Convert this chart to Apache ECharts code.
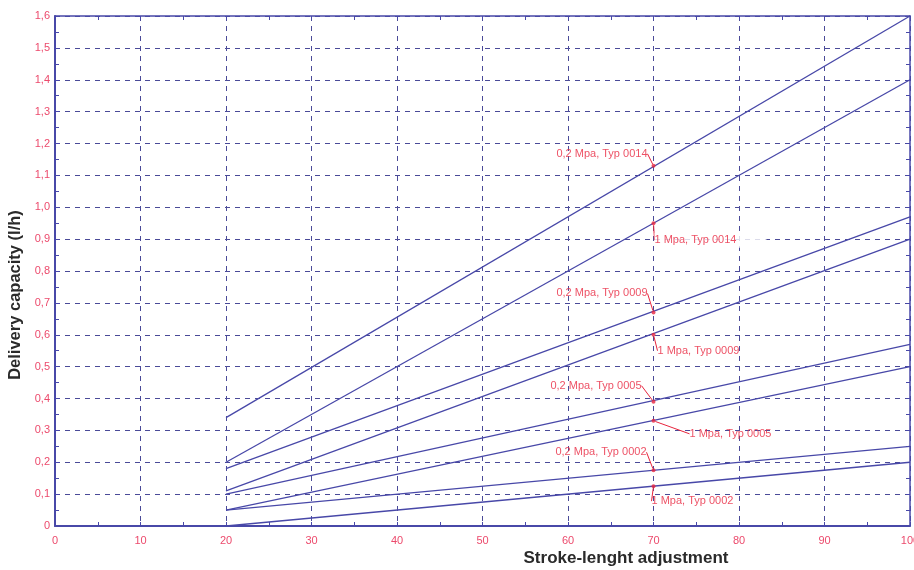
<!DOCTYPE html>
<html>
<head>
<meta charset="utf-8">
<script src="https://cdn.jsdelivr.net/npm/echarts@6/dist/echarts.min.js"></script>
<style>
  html, body { margin: 0; padding: 0; background: #fff; }
  #chart { width: 914px; height: 570px; }
</style>
</head>
<body>
<div id="chart"></div>
<script>
// stroke positions where every curve starts / ends
const strokeRange = [20, 100];
const curveNames = [
  '0,2 Mpa, Typ 0014', '1 Mpa, Typ 0014',
  '0,2 Mpa, Typ 0009', '1 Mpa, Typ 0009',
  '0,2 Mpa, Typ 0005', '1 Mpa, Typ 0005',
  '0,2 Mpa, Typ 0002', '1 Mpa, Typ 0002'
];
const startValues = [0.34, 0.20, 0.18, 0.11, 0.10, 0.05, 0.05, 0.00];
const endValues   = [1.60, 1.40, 0.97, 0.90, 0.57, 0.50, 0.25, 0.20];
// marked points at 70 %
const markStroke = 70;
const markValues = [1.13, 0.95, 0.67, 0.60, 0.39, 0.33, 0.175, 0.125];

// label placement for the marked points: [align, dx, dy] from the point
const labelPlace = [
  ['right', -6, -12], ['left', 1, 17],
  ['right', -6, -19], ['left', 4, 16],
  ['right', -12, -16], ['left', 36, 13],
  ['right', -7, -18], ['left', -2, 15]
];

const lineColor = '#4848a8';
const gridColor = '#4a4a98';
const tickRed = '#ec4a6c';
const noteRed = '#e8253e';
const fontFam = '"Liberation Sans", Arial, sans-serif';

const chart = echarts.init(document.getElementById('chart'));

const lineSeries = curveNames.map((n, i) => ({
  name: n,
  type: 'line',
  symbol: 'none',
  silent: true,
  lineStyle: { color: lineColor, width: 1.3 },
  data: [[strokeRange[0], startValues[i]], [strokeRange[1], endValues[i]]]
}));

const markSeries = {
  type: 'scatter',
  symbolSize: 4,
  itemStyle: { color: noteRed },
  z: 5,
  data: curveNames.map((n, i) => ({
    value: [markStroke, markValues[i]],
    name: n,
    label: i === 1 ? { backgroundColor: '#fff', padding: [2, 30, 2, 0] } : {}
  })),
  label: {
    show: true,
    position: 'inside',
    formatter: p => p.name,
    color: noteRed,
    fontFamily: fontFam,
    fontSize: 11
  },
  labelLayout: p => {
    const pl = labelPlace[p.dataIndex];
    return {
      x: p.rect.x + p.rect.width / 2 + pl[1],
      y: p.rect.y + p.rect.height / 2 + pl[2],
      align: pl[0],
      verticalAlign: 'middle'
    };
  },
  labelLine: { show: true, length2: 0, lineStyle: { color: noteRed, width: 1 } }
};

const fmtY = v => v === 0 ? '0' : v.toFixed(1).replace('.', ',');

const tickStyle = { color: lineColor };

const option = {
  animation: false,
  backgroundColor: '#fff',
  grid: { left: 55, right: 4, top: 16, bottom: 44, outerBoundsMode: 'none', containLabel: false },
  xAxis: [{
    type: 'value', min: 0, max: 100, interval: 10,
    axisLine: { lineStyle: { color: lineColor, width: 2 } },
    axisTick: { inside: true, length: 4, lineStyle: tickStyle },
    minorTick: { show: true, splitNumber: 2, length: 4, lineStyle: tickStyle },
    axisLabel: { color: tickRed, fontSize: 11, margin: 9, fontFamily: fontFam, hideOverlap: false },
    splitLine: { show: true, lineStyle: { color: gridColor, type: [5, 5], width: 1 } }
  }, {
    type: 'value', min: 0, max: 100, interval: 10, position: 'top',
    axisLine: { onZero: false, lineStyle: { color: lineColor, width: 1.5 } },
    axisTick: { inside: true, length: 4, lineStyle: tickStyle },
    minorTick: { show: true, splitNumber: 2, length: 4, lineStyle: tickStyle },
    axisLabel: { show: false },
    splitLine: { show: false }
  }],
  yAxis: [{
    type: 'value', min: 0, max: 1.6, interval: 0.1,
    axisLine: { show: true, lineStyle: { color: lineColor, width: 2 } },
    axisTick: { show: true, inside: true, length: 4, lineStyle: tickStyle },
    minorTick: { show: true, splitNumber: 2, length: 4, lineStyle: tickStyle },
    axisLabel: { color: tickRed, fontSize: 11, margin: 5, formatter: fmtY, fontFamily: fontFam },
    splitLine: { show: true, lineStyle: { color: gridColor, type: [5, 5], width: 1 } }
  }, {
    type: 'value', min: 0, max: 1.6, interval: 0.1, position: 'right',
    axisLine: { show: true, onZero: false, lineStyle: { color: lineColor, width: 1.5 } },
    axisTick: { show: true, inside: true, length: 4, lineStyle: tickStyle },
    minorTick: { show: true, splitNumber: 2, length: 4, lineStyle: tickStyle },
    axisLabel: { show: false },
    splitLine: { show: false }
  }],
  graphic: [{
    type: 'text',
    x: 626, y: 558,
    style: {
      text: 'Stroke-lenght adjustment',
      fill: '#2a2a2a',
      align: 'center', verticalAlign: 'middle',
      font: 'bold 17px ' + fontFam
    }
  }, {
    type: 'text',
    x: 15, y: 295,
    rotation: Math.PI / 2,
    style: {
      text: 'Delivery capacity (l/h)',
      fill: '#2a2a2a',
      align: 'center', verticalAlign: 'middle',
      font: 'bold 16.5px ' + fontFam
    }
  }],
  series: lineSeries.concat([markSeries])
};

chart.setOption(option);
</script>
</body>
</html>
